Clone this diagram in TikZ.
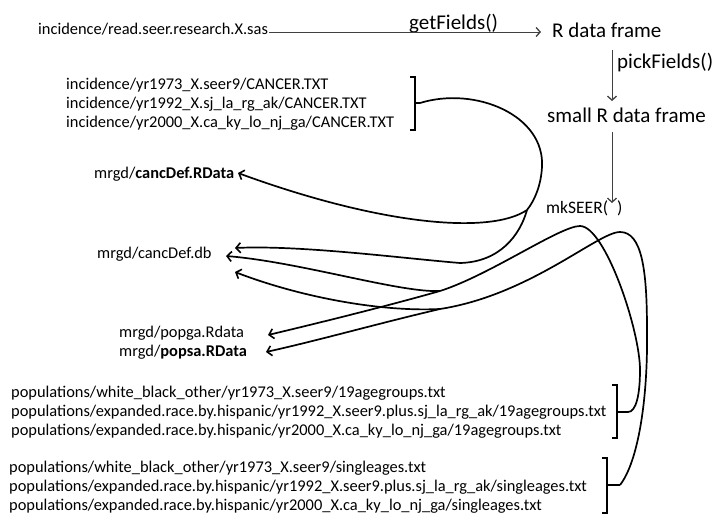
\documentclass[tikz,border=0pt]{standalone}
\usepackage{fontspec}
\setmainfont{Carlito}
\usetikzlibrary{arrows.meta}
\begin{document}
\begin{tikzpicture}[x=1pt,y=-1pt,
  small/.style={anchor=base west,inner sep=0pt,font=\fontsize{16.4}{19}\selectfont},
  big/.style={anchor=base west,inner sep=0pt,font=\fontsize{21}{25}\selectfont},
  mid/.style={anchor=base west,inner sep=0pt,font=\fontsize{17.5}{21}\selectfont},
  thinarrow/.style={line width=0.8pt,draw=black!75,-{Straight Barb[length=4pt,width=9pt,line width=1.3pt]}},
  flow/.style={line width=1.7pt,-{Straight Barb[length=4.5pt,width=10pt,line width=1.6pt]}},
  flowline/.style={line width=1.7pt},
  brk/.style={line width=1.8pt}]
\useasboundingbox (0,0) rectangle (720,525);

% top chain
\node[small] (sas) at (38,34.5) {incidence/read.seer.research.X.sas};
\node[big] (gf) at (409,29) {getFields()};
\node[big] (rdf) at (552,37) {R data frame};
\node[big] (pf) at (617,68) {pickFields()};
\node[big] (srdf) at (547,122) {small R data frame};
\node[mid] (mk) at (546,213) {mkSEER(};
\node[mid] (mkc) at (617,213) {)};
\coordinate (sasEnd) at (269,32);
\coordinate (rdfIn) at (541,32);
\coordinate (rdfOut) at (612,50);
\coordinate (srdfIn) at (612,101);
\coordinate (srdfOut) at (612,132);
\coordinate (mkIn) at (612,203);
\draw[thinarrow] (sasEnd) -- (rdfIn);
\draw[thinarrow] (rdfOut) -- (srdfIn);
\draw[thinarrow] (srdfOut) -- (mkIn);

% incidence files
\node[small] (i1) at (66,89.5) {incidence/yr1973\_X.seer9/CANCER.TXT};
\node[small] (i2) at (66,108.5) {incidence/yr1992\_X.sj\_la\_rg\_ak/CANCER.TXT};
\node[small] (i3) at (66,127.5) {incidence/yr2000\_X.ca\_ky\_lo\_nj\_ga/CANCER.TXT};
\draw[brk] (410,77) -- (415,77) -- (415,130) -- (410,130);
\draw[brk] (415,103) -- (420,103);
\coordinate (incB) at (420,103);

% outputs
\node[small] (cdR) at (94,178.5) {mrgd/\textbf{cancDef.RData}};
\node[small] (cdb) at (97,258.5) {mrgd/cancDef.db};
\node[small] (pga) at (119,337.5) {mrgd/popga.Rdata};
\node[small] (psa) at (119,356.5) {mrgd/\textbf{popsa.RData}};
\coordinate (tR) at (238,173);
\coordinate (tDb1) at (235,248);
\coordinate (tDb2) at (226,256);
\coordinate (tDb3) at (235,272);
\coordinate (tPga) at (268,335);
\coordinate (tPsa) at (266,352);

% population files
\node[small] (a1) at (11,397.5) {populations/white\_black\_other/yr1973\_X.seer9/19agegroups.txt};
\node[small] (a2) at (11,416.5) {populations/expanded.race.by.hispanic/yr1992\_X.seer9.plus.sj\_la\_rg\_ak/19agegroups.txt};
\node[small] (a3) at (11,435.5) {populations/expanded.race.by.hispanic/yr2000\_X.ca\_ky\_lo\_nj\_ga/19agegroups.txt};
\draw[brk] (612,385) -- (617,385) -- (617,438) -- (612,438);
\draw[brk] (617,412) -- (628,412);
\coordinate (ageB) at (628,412);

\node[small] (s1) at (9,472.5) {populations/white\_black\_other/yr1973\_X.seer9/singleages.txt};
\node[small] (s2) at (9,491.5) {populations/expanded.race.by.hispanic/yr1992\_X.seer9.plus.sj\_la\_rg\_ak/singleages.txt};
\node[small] (s3) at (9,510.5) {populations/expanded.race.by.hispanic/yr2000\_X.ca\_ky\_lo\_nj\_ga/singleages.txt};
\draw[brk] (602,458) -- (607,458) -- (607,513) -- (602,513);
\draw[brk] (607,485) -- (620,485);
\coordinate (sglB) at (620,485);

% incidence flow
\coordinate (J1) at (527,210);
\coordinate (K1) at (460,263);
\draw[flowline] (incB) .. controls (475,86) and (545,115) .. (542,167) .. controls (541,185) and (535,200) .. (J1);
\draw[flow] (J1) .. controls (490,235) and (380,225) .. (tR);
\draw[flowline] (J1) .. controls (520,235) and (500,262) .. (K1);
\draw[flow] (K1) .. controls (400,258) and (300,245) .. (tDb1);

% 19 age groups flow
\coordinate (SP) at (440,291);
\draw[flowline] (ageB) .. controls (636,412) and (640,395) .. (640,370) .. controls (640,330) and (605,226) .. (580,226) .. controls (560,226) and (490,275) .. (SP);
\draw[flow] (SP) .. controls (380,308) and (310,325) .. (tPga);
\draw[flow] (SP) .. controls (400,293) and (300,262) .. (tDb2);

% single ages flow
\coordinate (SQ) at (440,309);
\draw[flowline] (sglB) .. controls (638,462) and (648,400) .. (647,330) .. controls (647,270) and (642,232) .. (620,232) .. controls (598,232) and (530,295) .. (SQ);
\draw[flow] (SQ) .. controls (380,323) and (320,340) .. (tPsa);
\draw[flow] (SQ) .. controls (380,312) and (300,297) .. (tDb3);
\end{tikzpicture}
\end{document}
